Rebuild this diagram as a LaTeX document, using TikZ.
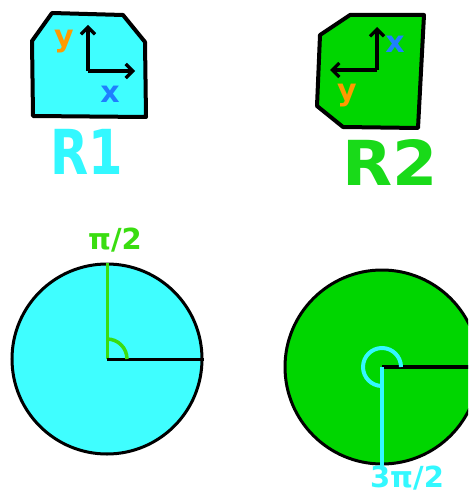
\documentclass[tikz,border=0pt]{standalone}
\usepackage{fontspec}
\setmainfont{DejaVu Sans}
\usepackage{xcolor}
\usepackage{tikz}
\usetikzlibrary{arrows.meta,positioning,calc}

\definecolor{aquafill}{HTML}{3FFEFF}
\definecolor{leaffill}{HTML}{00D600}
\definecolor{inkorange}{HTML}{FF9A00}
\definecolor{inkblue}{HTML}{1F7FFF}
\definecolor{inkgreen}{HTML}{3ADD10}
\definecolor{aquaink}{HTML}{33F8FF}

\begin{document}
\begin{tikzpicture}[
    x=1pt, y=-1pt,
    outline/.style={
        draw=black,
        line width=4pt,
        line join=round
    },
    axis/.style={
        -{Straight Barb[length=7pt,width=14pt,line width=3.2pt]},
        line width=3.2pt,
        black
    },
    wheel/.style={
        circle,
        draw=black,
        line width=3pt,
        inner sep=0pt
    },
    letter/.style={
        font=\bfseries\fontsize{30}{30}\selectfont,
        inner sep=0pt
    },
    title/.style={
        font=\bfseries\fontsize{62}{62}\selectfont,
        inner sep=0pt
    },
    angle/.style={
        font=\bfseries\fontsize{29}{29}\selectfont,
        inner sep=0pt
    }
]

\clip (0,0) rectangle (468,494);

% first row
\draw[outline, fill=aquafill]
    (32,41) -- (52,13) -- (123,15) -- (145,42) -- (146,117) -- (33,116) -- cycle;
\coordinate (originA) at (88,71);
\coordinate (ytipA) at (88,25);
\coordinate (xtipA) at (135,71);
\draw[axis] (originA) -- (ytipA);
\draw[axis] (originA) -- (xtipA);
\node[letter, text=inkorange] (ylabA) at (64,42) {y};
\node[letter, text=inkblue] (xlabA) at (110,94) {x};
\node[title, text=aquaink] (nameA) at (87,152) {\scalebox{0.8}[1]{R1}};

\draw[outline, fill=leaffill]
    (350,15) -- (424,15) -- (418,128) -- (343,127) -- (317,106) -- (320,35) -- cycle;
\coordinate (originB) at (377,70);
\coordinate (ytipB) at (377,27);
\coordinate (xtipB) at (330,70);
\draw[axis] (originB) -- (ytipB);
\draw[axis] (originB) -- (xtipB);
\node[letter, text=inkblue] (xlabB) at (395,44) {x};
\node[letter, text=inkorange] (ylabB) at (347,96) {y};
\node[title, text=leaffill!90!white] (nameB) at (390,162) {\scalebox{1.05}[1]{R2}};

% second row
\node[wheel, fill=aquafill, minimum size=190pt] (wheelA) at (107,359) {};
\draw[inkgreen, line width=3pt] (wheelA.center) -- (wheelA.north);
\draw[black, line width=3pt] (wheelA.center) -- (wheelA.east);
\draw[inkgreen, line width=3.5pt] ($(wheelA.center)+(20,0)$) arc[start angle=0, end angle=-90, radius=20];
\node[angle, text=inkgreen] (quarter) at (115,240) {π/2};

\node[wheel, fill=leaffill, minimum size=194pt] (wheelB) at (382,367) {};
\draw[black, line width=3.5pt] (wheelB.center) -- (wheelB.east);
\draw[aquaink, line width=3.5pt] (wheelB.center) -- (wheelB.south);
\draw[aquaink, line width=4pt] ($(wheelB.center)+(19,0)$) arc[start angle=0, end angle=-270, radius=19];
\node[angle, text=aquaink] (threequarter) at (407,478) {3π/2};

\end{tikzpicture}
\end{document}
